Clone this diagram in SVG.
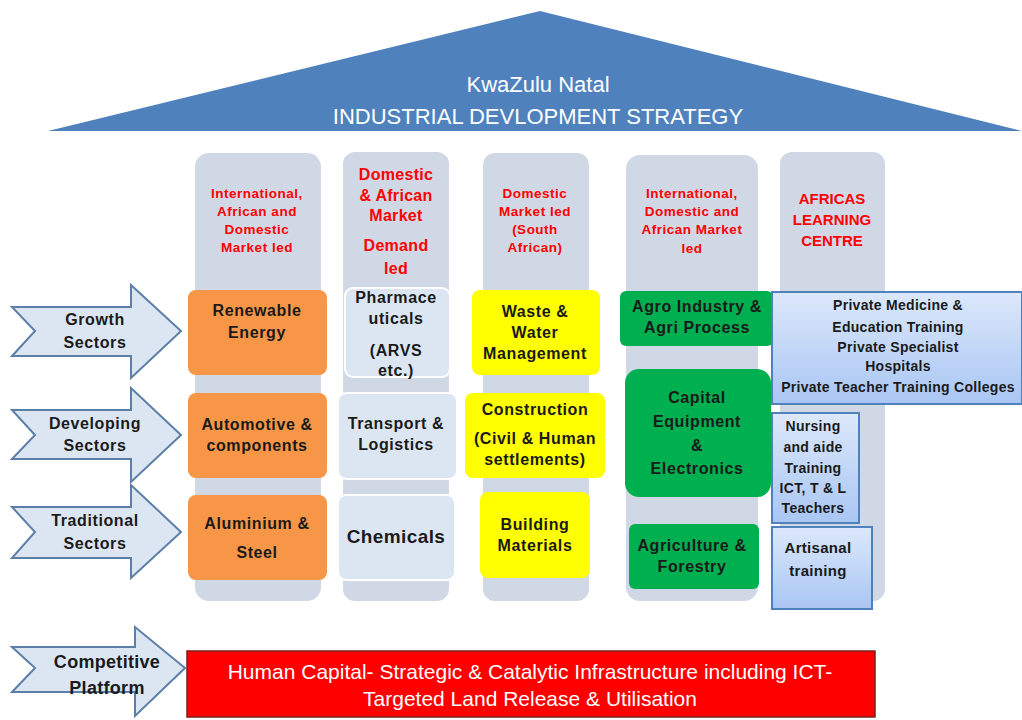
<svg xmlns="http://www.w3.org/2000/svg" width="1022" height="720" viewBox="0 0 1022 720">
<defs>
<linearGradient id="bl" x1="0" y1="0" x2="0" y2="1">
<stop offset="0" stop-color="#DCE8FB"/><stop offset="1" stop-color="#A9C6F3"/>
</linearGradient>
<style>
.col{fill:#D0D8E6}
.hd{font-family:"Liberation Sans",Arial,sans-serif;font-weight:bold;fill:#FF0000;text-anchor:middle;font-size:13.5px;letter-spacing:0.5px}
.t{font-family:"Liberation Sans",Arial,sans-serif;font-weight:bold;fill:#1a1a1a;text-anchor:middle;font-size:16px;letter-spacing:0.6px}
.s{font-size:14px;letter-spacing:0.3px}
.or{fill:#F79646}
.lt{fill:#DCE6F2;stroke:#ffffff;stroke-width:2}
.ye{fill:#FFFF00}
.gr{fill:#00B050}
.bx{fill:url(#bl);stroke:#4F81BD;stroke-width:2}
.ar{fill:#DCE6F2;stroke:#5B7FA8;stroke-width:2;stroke-linejoin:miter}
.ti{font-family:"Liberation Sans",Arial,sans-serif;fill:#ffffff;text-anchor:middle;font-size:22px}
</style>
</defs>
<rect width="1022" height="720" fill="#ffffff"/>
<g id="roof">
<polygon points="540,11 48,131 1022,131" fill="#4F81BD"/>
<text class="ti" x="538" y="92">KwaZulu Natal</text>
<text class="ti" x="538" y="124">INDUSTRIAL  DEVLOPMENT STRATEGY</text>
</g>
<g id="columns">
<rect class="col" x="195" y="153" width="126" height="448" rx="14"/>
<rect class="col" x="343" y="152" width="106" height="449" rx="12"/>
<rect class="col" x="483" y="153" width="106" height="448" rx="12"/>
<rect class="col" x="626" y="155" width="132" height="446" rx="14"/>
<rect class="col" x="780" y="152" width="105" height="449" rx="12"/>
</g>
<g id="headers">
<text class="hd" x="257" y="198">International,</text>
<text class="hd" x="257" y="216">African and</text>
<text class="hd" x="257" y="234">Domestic</text>
<text class="hd" x="257" y="252">Market led</text>
<text class="hd" x="396" y="180" style="font-size:16px;letter-spacing:0.3px">Domestic</text>
<text class="hd" x="396" y="201" style="font-size:16px;letter-spacing:0.3px">&amp; African</text>
<text class="hd" x="396" y="221" style="font-size:16px;letter-spacing:0.3px">Market</text>
<text class="hd" x="396" y="251" style="font-size:16px;letter-spacing:0.3px">Demand</text>
<text class="hd" x="396" y="274" style="font-size:16px;letter-spacing:0.3px">led</text>
<text class="hd" x="535" y="198">Domestic</text>
<text class="hd" x="535" y="216">Market led</text>
<text class="hd" x="535" y="234">(South</text>
<text class="hd" x="535" y="252">African)</text>
<text class="hd" x="692" y="198">International,</text>
<text class="hd" x="692" y="216">Domestic and</text>
<text class="hd" x="692" y="234">African Market</text>
<text class="hd" x="692" y="253">led</text>
<text class="hd" x="832" y="204" style="font-size:15px;letter-spacing:0">AFRICAS</text>
<text class="hd" x="832" y="225" style="font-size:15px;letter-spacing:0">LEARNING</text>
<text class="hd" x="832" y="246" style="font-size:15px;letter-spacing:0">CENTRE</text>
</g>
<g id="arrows">
<g id="a-growth"><polygon class="ar" points="12,307 131,307 131,285 181,331 131,378 131,356 12,356 35,331"/>
<text class="t" x="95" y="325">Growth</text><text class="t" x="95" y="348">Sectors</text></g>
<g id="a-developing"><polygon class="ar" points="12,410 131,410 131,388 181,435 131,482 131,459 12,459 35,435"/>
<text class="t" x="95" y="429">Developing</text><text class="t" x="95" y="451">Sectors</text></g>
<g id="a-traditional"><polygon class="ar" points="12,507 131,507 131,485 181,532 131,578 131,558 12,558 35,532"/>
<text class="t" x="95" y="526">Traditional</text><text class="t" x="95" y="549">Sectors</text></g>
<g id="a-competitive"><polygon class="ar" points="12,647 135,647 135,627 185,668 135,716 135,692 12,692 35,668"/>
<text class="t" x="107" y="668" style="font-size:18px;letter-spacing:0.3px">Competitive</text><text class="t" x="107" y="694" style="font-size:18px;letter-spacing:0.3px">Platform</text></g>
</g>
<g id="col1">
<g id="renewable"><rect class="or" x="188" y="290" width="139" height="85" rx="8"/>
<text class="t" x="257" y="316">Renewable</text><text class="t" x="257" y="338">Energy</text></g>
<g id="automotive"><rect class="or" x="188" y="393" width="139" height="85" rx="8"/>
<text class="t" x="257" y="430">Automotive  &amp;</text><text class="t" x="257" y="451">components</text></g>
<g id="aluminium"><rect class="or" x="188" y="495" width="139" height="85" rx="8"/>
<text class="t" x="257" y="529">Aluminium  &amp;</text><text class="t" x="257" y="558">Steel</text></g>
</g>
<g id="col2">
<g id="pharma"><rect class="lt" x="345" y="288" width="105" height="89" rx="8"/>
<text class="t" x="396" y="303">Pharmace</text><text class="t" x="396" y="324">uticals</text>
<text class="t" x="396" y="356">(ARVS</text><text class="t" x="396" y="376">etc.)</text></g>
<g id="transport"><rect class="lt" x="338" y="393" width="119" height="86" rx="8"/>
<text class="t" x="396" y="429">Transport &amp;</text><text class="t" x="396" y="450">Logistics</text></g>
<g id="chemicals"><rect class="lt" x="338" y="495" width="117" height="85" rx="8"/>
<text class="t" x="396" y="543" style="font-size:19px;letter-spacing:0.4px">Chemicals</text></g>
</g>
<g id="col3">
<g id="waste"><rect class="ye" x="472" y="290" width="128" height="85" rx="8"/>
<text class="t" x="535" y="317">Waste &amp;</text><text class="t" x="535" y="338">Water</text><text class="t" x="535" y="359">Management</text></g>
<g id="construction"><rect class="ye" x="465" y="393" width="140" height="85" rx="8"/>
<text class="t" x="535" y="415">Construction</text><text class="t" x="535" y="444">(Civil &amp; Human</text><text class="t" x="535" y="465">settlements)</text></g>
<g id="building"><rect class="ye" x="480" y="492" width="110" height="86" rx="8"/>
<text class="t" x="535" y="530">Building</text><text class="t" x="535" y="551">Materials</text></g>
</g>
<g id="col4">
<g id="agro"><rect class="gr" x="620" y="291" width="153" height="55" rx="6"/>
<text class="t" x="697" y="312">Agro Industry  &amp;</text><text class="t" x="697" y="333">Agri  Process</text></g>
<g id="capital"><rect class="gr" x="625" y="369" width="146" height="128" rx="14"/>
<text class="t" x="697" y="403">Capital</text><text class="t" x="697" y="427">Equipment</text><text class="t" x="697" y="451">&amp;</text><text class="t" x="697" y="474">Electronics</text></g>
<g id="agriculture"><rect class="gr" x="629" y="524" width="130" height="65" rx="6"/>
<text class="t" x="692" y="551">Agriculture  &amp;</text><text class="t" x="692" y="572">Forestry</text></g>
</g>
<g id="col5">
<g id="private"><rect class="bx" x="772" y="292" width="250" height="112"/>
<text class="t s" x="898" y="310">Private Medicine &amp;</text>
<text class="t s" x="898" y="332">Education  Training</text>
<text class="t s" x="898" y="352">Private Specialist</text>
<text class="t s" x="898" y="371">Hospitals</text>
<text class="t s" x="898" y="392">Private Teacher Training Colleges</text></g>
<g id="nursing"><rect class="bx" x="772" y="413" width="87" height="110"/>
<text class="t s" x="813" y="431">Nursing</text>
<text class="t s" x="813" y="452">and aide</text>
<text class="t s" x="813" y="473">Training</text>
<text class="t s" x="813" y="493">ICT, T &amp; L</text>
<text class="t s" x="813" y="513">Teachers</text></g>
<g id="artisanal"><rect class="bx" x="772" y="527" width="100" height="82"/>
<text class="t" x="818" y="553" style="font-size:15px;letter-spacing:0.3px">Artisanal</text>
<text class="t" x="818" y="576" style="font-size:15px;letter-spacing:0.3px">training</text></g>
</g>
<g id="platform">
<rect x="187" y="651" width="688" height="66" fill="#FF0000" stroke="#7a2020" stroke-width="1.5"/>
<text class="ti" x="530" y="679" style="font-size:21px">Human Capital- Strategic &amp; Catalytic Infrastructure including ICT-</text>
<text class="ti" x="530" y="706" style="font-size:21px">Targeted Land Release &amp; Utilisation</text>
</g>
</svg>
